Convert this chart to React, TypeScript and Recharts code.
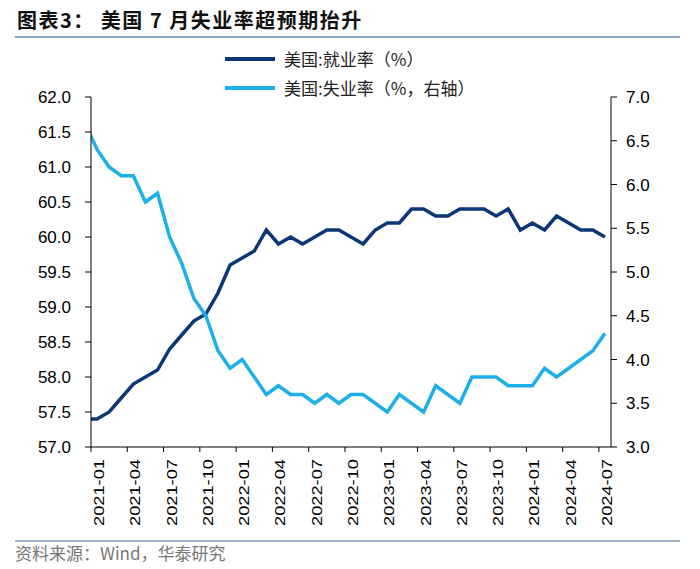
import React from "react";
import { LineChart, Line, XAxis, YAxis } from "recharts";

// Months (the first one, 2020-12, lies just outside the axis and is clipped)
const MONTHS: string[] = [
  "2020-12",
  "2021-01", "2021-02", "2021-03", "2021-04", "2021-05", "2021-06",
  "2021-07", "2021-08", "2021-09", "2021-10", "2021-11", "2021-12",
  "2022-01", "2022-02", "2022-03", "2022-04", "2022-05", "2022-06",
  "2022-07", "2022-08", "2022-09", "2022-10", "2022-11", "2022-12",
  "2023-01", "2023-02", "2023-03", "2023-04", "2023-05", "2023-06",
  "2023-07", "2023-08", "2023-09", "2023-10", "2023-11", "2023-12",
  "2024-01", "2024-02", "2024-03", "2024-04", "2024-05", "2024-06",
  "2024-07",
];

// 美国:就业率（%）
const EMPLOYMENT: number[] = [
  57.4,
  57.4, 57.5, 57.7, 57.9, 58.0, 58.1, 58.4, 58.6, 58.8, 58.9, 59.2, 59.6,
  59.7, 59.8, 60.1, 59.9, 60.0, 59.9, 60.0, 60.1, 60.1, 60.0, 59.9, 60.1,
  60.2, 60.2, 60.4, 60.4, 60.3, 60.3, 60.4, 60.4, 60.4, 60.3, 60.4, 60.1,
  60.2, 60.1, 60.3, 60.2, 60.1, 60.1, 60.0,
];

// 美国:失业率（%，右轴）
const UNEMPLOYMENT: number[] = [
  6.7,
  6.4, 6.2, 6.1, 6.1, 5.8, 5.9, 5.4, 5.1, 4.7, 4.5, 4.1, 3.9,
  4.0, 3.8, 3.6, 3.7, 3.6, 3.6, 3.5, 3.6, 3.5, 3.6, 3.6, 3.5,
  3.4, 3.6, 3.5, 3.4, 3.7, 3.6, 3.5, 3.8, 3.8, 3.8, 3.7, 3.7,
  3.7, 3.9, 3.8, 3.9, 4.0, 4.1, 4.3,
];

const X_TICKS: number[] = [0, 3, 6, 9, 12, 15, 18, 21, 24, 27, 30, 33, 36, 39, 42];
const LEFT_TICKS: number[] = [57, 57.5, 58, 58.5, 59, 59.5, 60, 60.5, 61, 61.5, 62];
const RIGHT_TICKS: number[] = [3, 3.5, 4, 4.5, 5, 5.5, 6, 6.5, 7];

const TITLE = "图表3： 美国 7 月失业率超预期抬升";
const SOURCE = "资料来源：Wind，华泰研究";
const LEGEND_EMP = "美国:就业率（%）";
const LEGEND_UNEMP = "美国:失业率（%，右轴）";

const DARK = "#0c3676";
const LIGHT = "#1db0e8";

const data = MONTHS.map((m, j) => ({
  i: j - 1,
  month: m,
  emp: EMPLOYMENT[j],
  unemp: UNEMPLOYMENT[j],
}));

// layout
const W = 700;
const H = 569;
const PLOT_L = 91;
const PLOT_R = 611;
const PLOT_T = 97;
const PLOT_B = 447;
const AXIS_W = 60;
const X_AXIS_H = 100;
const N_CAT = 43;
const HALF_BAND = (PLOT_R - PLOT_L) / N_CAT / 2;

const XTick = (props: any) => {
  const { x, y, payload } = props;
  const label = MONTHS[payload.value + 1];
  return (
    <g>
      <line
        x1={x - HALF_BAND}
        x2={x - HALF_BAND}
        y1={y - 12}
        y2={y - 7}
        stroke="#000"
        strokeWidth={1}
      />
      <text
        x={x + 2}
        y={y}
        transform={`rotate(-90, ${x + 2}, ${y})`}
        textAnchor="end"
        dominantBaseline="central"
        fontSize={14}
        fontFamily="'Liberation Sans', Arial, sans-serif"
        fill="#000"
        textLength={67}
        lengthAdjust="spacingAndGlyphs"
      >
        {label}
      </text>
    </g>
  );
};

const cjk = "'Noto Sans CJK SC', 'Noto Sans', sans-serif";

const LegendRow = ({ color, text, top }: { color: string; text: string; top: number }) => (
  <div
    style={{
      position: "absolute",
      left: 225,
      top: top - 12,
      height: 24,
      display: "flex",
      alignItems: "center",
    }}
  >
    <svg width={52} height={24} style={{ display: "block" }}>
      <line x1={0} x2={50} y1={12} y2={12} stroke={color} strokeWidth={4} />
    </svg>
    <span
      style={{
        marginLeft: 7,
        fontSize: 17,
        fontFamily: cjk,
        color: "#222",
        whiteSpace: "nowrap",
        lineHeight: "24px",
      }}
    >
      {text}
    </span>
  </div>
);

export default function App() {
  return (
    <div
      style={{
        position: "absolute",
        left: 0,
        top: 0,
        width: W,
        height: H,
        background: "#fff",
        overflow: "hidden",
      }}
    >
      <div
        style={{
          position: "absolute",
          left: 17,
          top: 6,
          fontSize: 20,
          fontWeight: 700,
          fontFamily: cjk,
          color: "#111",
          whiteSpace: "pre",
          lineHeight: "28px",
          letterSpacing: 1.5,
        }}
      >
        {TITLE}
      </div>
      <div
        style={{
          position: "absolute",
          left: 15,
          top: 36,
          width: 665,
          height: 2,
          background: "#8aa4c2",
        }}
      />
      <LegendRow color={DARK} text={LEGEND_EMP} top={59} />
      <LegendRow color={LIGHT} text={LEGEND_UNEMP} top={88} />

      <div style={{ position: "absolute", left: 0, top: 0 }}>
        <LineChart
          width={W}
          height={H}
          data={data}
          margin={{
            top: PLOT_T,
            bottom: H - PLOT_B - X_AXIS_H,
            left: PLOT_L - AXIS_W,
            right: W - PLOT_R - AXIS_W,
          }}
        >
          <XAxis
            dataKey="i"
            type="number"
            domain={[-0.5, 42.5]}
            allowDataOverflow
            ticks={X_TICKS}
            interval={0}
            height={X_AXIS_H}
            tickSize={5}
            tickMargin={7}
            tickLine={false}
            axisLine={{ stroke: "#000", strokeWidth: 1 }}
            tick={<XTick />}
          />
          <YAxis
            yAxisId="left"
            orientation="left"
            width={AXIS_W}
            domain={[57, 62]}
            ticks={LEFT_TICKS}
            interval={0}
            allowDataOverflow
            tickFormatter={(v: number) => v.toFixed(1)}
            tickSize={6}
            tickMargin={14}
            tickLine={{ stroke: "#000" }}
            axisLine={{ stroke: "#000", strokeWidth: 1 }}
            tick={{
              fontSize: 17,
              fill: "#000",
              fontFamily: "'Liberation Sans', Arial, sans-serif",
            }}
          />
          <YAxis
            yAxisId="right"
            orientation="right"
            width={AXIS_W}
            domain={[3, 7]}
            ticks={RIGHT_TICKS}
            interval={0}
            allowDataOverflow
            tickFormatter={(v: number) => v.toFixed(1)}
            tickSize={6}
            tickMargin={9}
            tickLine={{ stroke: "#000" }}
            axisLine={{ stroke: "#000", strokeWidth: 1 }}
            tick={{
              fontSize: 17,
              fill: "#000",
              fontFamily: "'Liberation Sans', Arial, sans-serif",
            }}
          />
          <Line
            yAxisId="left"
            type="linear"
            dataKey="emp"
            stroke={DARK}
            strokeWidth={3.5}
            dot={false}
            activeDot={false}
            isAnimationActive={false}
          />
          <Line
            yAxisId="right"
            type="linear"
            dataKey="unemp"
            stroke={LIGHT}
            strokeWidth={3.5}
            dot={false}
            activeDot={false}
            isAnimationActive={false}
          />
        </LineChart>
      </div>

      <div
        style={{
          position: "absolute",
          left: 15,
          top: 540,
          width: 665,
          height: 2,
          background: "#9fb2c9",
        }}
      />
      <div
        style={{
          position: "absolute",
          left: 15,
          top: 542,
          fontSize: 17,
          fontFamily: cjk,
          color: "#777",
          whiteSpace: "nowrap",
          lineHeight: "22px",
        }}
      >
        {SOURCE}
      </div>
    </div>
  );
}
